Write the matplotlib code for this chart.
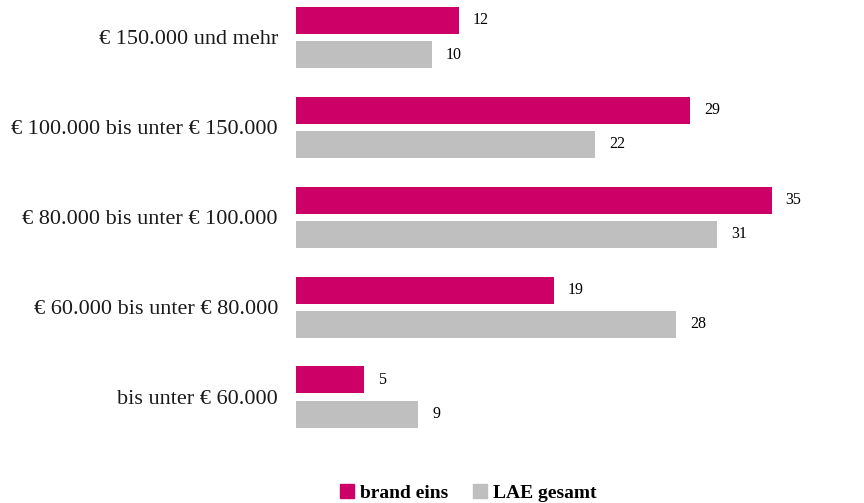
import numpy as np
import matplotlib.pyplot as plt
from matplotlib.patches import Patch

CATEGORIES = [
    "bis unter € 60.000",
    "€ 60.000 bis unter € 80.000",
    "€ 80.000 bis unter € 100.000",
    "€ 100.000 bis unter € 150.000",
    "€ 150.000 und mehr",
]
BRAND_EINS = [5, 19, 35, 29, 12]
LAE_GESAMT = [9, 28, 31, 22, 10]
SERIES_NAMES = ["brand eins", "LAE gesamt"]

MAGENTA = "#CC0066"
GREY = "#BFBFBF"
FONT = "Liberation Serif"


def main() -> None:
    fig = plt.figure(figsize=(8.64, 5.03), dpi=100)
    ax = fig.add_axes([296 / 864, 1 - 450 / 503, 568 / 864, 450 / 503])

    y = np.arange(len(CATEGORIES))
    h = 0.3
    off = 0.19
    ax.barh(y + off, BRAND_EINS, height=h, color=MAGENTA)
    ax.barh(y - off, LAE_GESAMT, height=h, color=GREY)

    # value labels right of each bar
    for yi, v in zip(y + off, BRAND_EINS):
        ax.annotate(str(v), (v, yi), xytext=(10, 0), textcoords="offset points",
                    ha="left", va="center", fontsize=11.5, family=FONT)
    for yi, v in zip(y - off, LAE_GESAMT):
        ax.annotate(str(v), (v, yi), xytext=(10, 0), textcoords="offset points",
                    ha="left", va="center", fontsize=11.5, family=FONT)

    ax.set_xlim(0, 41.8)
    ax.set_ylim(-0.589, 4.417)
    ax.set_yticks(y)
    ax.set_yticklabels(CATEGORIES, family=FONT, fontsize=16)
    ax.tick_params(axis="y", length=0, pad=13, colors="#1A1A1A")
    ax.set_xticks([])
    for s in ax.spines.values():
        s.set_visible(False)

    handles = [Patch(color=MAGENTA), Patch(color=GREY)]
    fig.legend(handles, SERIES_NAMES, loc="center", bbox_to_anchor=(0.542, 1 - 493 / 503),
               ncol=2, frameon=False, handlelength=0.7, handleheight=0.7,
               handletextpad=0.3, columnspacing=1.3,
               prop={"family": FONT, "weight": "bold", "size": 14})

    fig.savefig("out.png", dpi=100)


if __name__ == "__main__":
    main()
